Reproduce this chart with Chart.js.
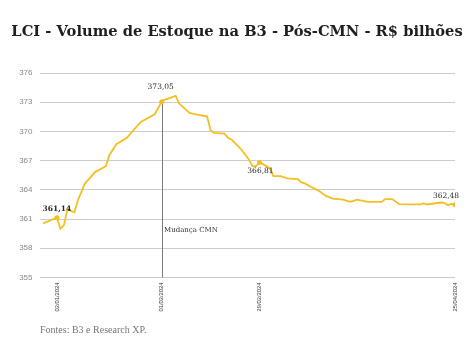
<!DOCTYPE html>
<html>
<head>
<meta charset="utf-8">
<script src="https://cdn.jsdelivr.net/npm/chart.js@4.4.1/dist/chart.umd.min.js"></script>
<style>
  html, body { margin: 0; padding: 0; background: #fff; }
</style>
</head>
<body>
<canvas id="chart" width="474" height="360"></canvas>
<script>
const dates = [
  '29/12/2023', '02/01/2024', '03/01/2024', '04/01/2024', '05/01/2024', '07/01/2024', '08/01/2024',
  '10/01/2024', '13/01/2024', '16/01/2024', '17/01/2024', '19/01/2024', '22/01/2024', '26/01/2024',
  '30/01/2024', '01/02/2024', '02/02/2024', '05/02/2024', '06/02/2024', '09/02/2024', '12/02/2024',
  '14/02/2024', '15/02/2024', '16/02/2024', '19/02/2024', '20/02/2024', '21/02/2024', '24/02/2024',
  '26/02/2024', '27/02/2024', '28/02/2024', '29/02/2024', '01/03/2024', '03/03/2024', '04/03/2024',
  '06/03/2024', '08/03/2024', '11/03/2024', '12/03/2024', '13/03/2024', '15/03/2024', '17/03/2024',
  '19/03/2024', '21/03/2024', '24/03/2024', '26/03/2024', '28/03/2024', '31/03/2024', '04/04/2024',
  '05/04/2024', '07/04/2024', '09/04/2024', '12/04/2024', '15/04/2024', '16/04/2024', '17/04/2024',
  '21/04/2024', '22/04/2024', '23/04/2024', '24/04/2024', '25/04/2024'
]
const values = [
  360.55, 361.14, 360.00, 360.38, 362.00, 361.70, 362.94,
  364.65, 365.85, 366.43, 367.56, 368.69, 369.35, 370.97,
  371.76, 373.05, 373.27, 373.64, 372.86, 371.90, 371.66,
  371.56, 370.12, 369.85, 369.78, 369.33, 369.17, 368.07,
  367.10, 366.43, 366.43, 366.81, 366.64, 366.20, 365.40,
  365.40, 365.17, 365.10, 364.76, 364.66, 364.25, 363.90,
  363.38, 363.10, 363.00, 362.77, 363.00, 362.77, 362.77,
  363.05, 363.05, 362.53, 362.50, 362.50, 362.60, 362.50,
  362.70, 362.65, 362.43, 362.55, 362.48
]
const tickDates = ['02/01/2024', '01/02/2024', '29/02/2024', '25/04/2024']
const markDates = ['02/01/2024', '01/02/2024', '29/02/2024', '25/04/2024']
const markLabels = ['361,14', '373,05', '366,81', '362,48']
const changeDate = '01/02/2024'
const changeLabel = 'Mudança CMN'
const titleText = 'LCI - Volume de Estoque na B3 - Pós-CMN - R$ bilhões'
const sourceText = 'Fontes: B3 e Research XP.'

const yMin = 355
const yMax = 376
const yStep = 3

const lineColor = '#F3BF22'
const base = Date.UTC(2024, 0, 2)
const toDay = (s) => {
  const [d, m, y] = s.split('/').map(Number)
  return (Date.UTC(y, m - 1, d) - base) / 864e5
}

const points = dates.map((d, i) => ({ x: toDay(d), y: values[i] }))
const markIdx = markDates.map(d => dates.indexOf(d))

// label offsets (px) from each marked point
const labelOffsets = [
  { dx: 0, dy: -9, weight: 'bold' },
  { dx: -1, dy: -15, weight: 'normal' },
  { dx: 1, dy: 9, weight: 'normal' },
  { dx: -9, dy: -9, weight: 'normal' },
]

const decorPlugin = {
  id: 'decor',
  beforeDatasetsDraw(chart) {
    const { ctx, scales: { x, y }, chartArea } = chart
    const i = dates.indexOf(changeDate)
    const px = Math.round(x.getPixelForValue(points[i].x)) + 0.5
    const py = y.getPixelForValue(points[i].y)
    ctx.save()
    ctx.strokeStyle = '#7a7a7a'
    ctx.lineWidth = 1
    ctx.beginPath()
    ctx.moveTo(px, py)
    ctx.lineTo(px, chartArea.bottom)
    ctx.stroke()
    ctx.fillStyle = '#333'
    ctx.font = '7px "DejaVu Serif"'
    ctx.textAlign = 'left'
    ctx.textBaseline = 'middle'
    ctx.fillText(changeLabel, px + 1.5, y.getPixelForValue(359.85))
    ctx.restore()
  },
  afterDatasetsDraw(chart) {
    const { ctx, scales: { x, y } } = chart
    ctx.save()
    ctx.fillStyle = '#2a2a2a'
    ctx.textAlign = 'center'
    ctx.textBaseline = 'middle'
    markIdx.forEach((idx, k) => {
      const o = labelOffsets[k]
      ctx.font = o.weight + ' 7.5px "DejaVu Serif"'
      const px = x.getPixelForValue(points[idx].x)
      const py = y.getPixelForValue(points[idx].y)
      ctx.fillText(markLabels[k], px + o.dx, py + o.dy)
    })
    ctx.restore()
  },
  afterDraw(chart) {
    const { ctx } = chart
    ctx.save()
    ctx.fillStyle = '#1f1f1f'
    ctx.font = 'bold 14.7px "DejaVu Serif"'
    ctx.textAlign = 'center'
    ctx.textBaseline = 'middle'
    ctx.fillText(titleText, 237, 32)
    ctx.fillStyle = '#777'
    ctx.font = '10px "Liberation Serif"'
    ctx.textAlign = 'left'
    ctx.fillText(sourceText, 40, 330)
    ctx.restore()
  }
}

new Chart(document.getElementById('chart'), {
  type: 'line',
  data: {
    datasets: [{
      data: points,
      borderColor: lineColor,
      backgroundColor: lineColor,
      borderWidth: 1.8,
      tension: 0,
      pointRadius: (c) => markIdx.includes(c.dataIndex) ? 2.5 : 0,
      pointBorderWidth: 0,
      pointBackgroundColor: lineColor,
    }]
  },
  options: {
    responsive: false,
    devicePixelRatio: 1,
    animation: false,
    layout: { padding: { top: 73, right: 19, bottom: 42.5, left: 0 } },
    plugins: {
      legend: { display: false },
      tooltip: { enabled: false },
    },
    scales: {
      x: {
        type: 'linear',
        min: -5,
        max: 114,
        afterBuildTicks: (scale) => {
          scale.ticks = tickDates.map(d => ({ value: toDay(d) }))
        },
        afterFit: (scale) => { scale.height = 40 },
        grid: { display: false, drawTicks: false },
        border: { display: false },
        ticks: {
          autoSkip: false,
          minRotation: 90,
          maxRotation: 90,
          padding: 5,
          color: '#333',
          font: { family: 'Liberation Sans', size: 5.8 },
          callback: (v) => tickDates.find(d => toDay(d) === v) || '',
        },
      },
      y: {
        min: yMin,
        max: yMax,
        afterFit: (scale) => { scale.width = 39.5 },
        grid: { color: '#cccccc', lineWidth: 1, drawTicks: false },
        border: { display: false },
        ticks: {
          stepSize: yStep,
          padding: 7,
          color: '#8a8a8a',
          font: { family: 'Liberation Sans', size: 8 },
        },
      },
    },
  },
  plugins: [decorPlugin],
})
</script>
</body>
</html>
